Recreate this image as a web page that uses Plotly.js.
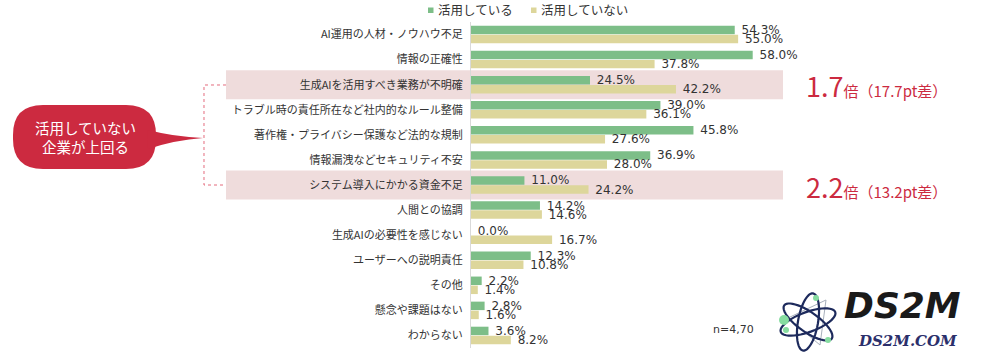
<!DOCTYPE html>
<html>
<head>
<meta charset="utf-8">
<script src="https://cdn.plot.ly/plotly-3.0.1.min.js"></script>
<style>html,body{margin:0;padding:0;background:#fff;}#chart{width:1000px;height:356px;}</style>
</head>
<body>
<div id="chart"></div>
<script>
const categories = [
  "AI運用の人材・ノウハウ不足",
  "情報の正確性",
  "生成AIを活用すべき業務が不明確",
  "トラブル時の責任所在など社内的なルール整備",
  "著作権・プライバシー保護など法的な規制",
  "情報漏洩などセキュリティ不安",
  "システム導入にかかる資金不足",
  "人間との協調",
  "生成AIの必要性を感じない",
  "ユーザーへの説明責任",
  "その他",
  "懸念や課題はない",
  "わからない"
];
const usingAI    = [54.3, 58.0, 24.5, 39.0, 45.8, 36.9, 11.0, 14.2, 0.0, 12.3, 2.2, 2.8, 3.6];
const notUsingAI = [55.0, 37.8, 42.2, 36.1, 27.6, 28.0, 24.2, 14.6, 16.7, 10.8, 1.4, 1.6, 8.2];
const seriesNames = ["活用している", "活用していない"];
const highlightRows = [2, 6];
const highlightTexts = ["1.7", "2.2"];
const highlightSubs = ["倍（17.7pt差）", "倍（13.2pt差）"];
const calloutText = "活用していない<br>企業が上回る";
const sampleNote = "n=4,70";

const GREEN = "#7dbe88", TAN = "#ddd69b", RED = "#cc2a40", BAND = "rgba(236,214,214,0.85)";
const L = 471, R = 783, T = 22, B = 348;
const px = x => (x - L) / (R - L);
const py = y => (B - y) / (B - T);
const P = (x, y) => px(x).toFixed(5) + "," + py(y).toFixed(5);

function ellipsePath(cx, cy, a, b, deg) {
  const th = deg * Math.PI / 180; let s = "";
  for (let k = 0; k <= 48; k++) {
    const t = k / 48 * 2 * Math.PI;
    const x = cx + a * Math.cos(t) * Math.cos(th) - b * Math.sin(t) * Math.sin(th);
    const y = cy + a * Math.cos(t) * Math.sin(th) + b * Math.sin(t) * Math.cos(th);
    s += (k === 0 ? "M" : "L") + P(x, y);
  }
  return s + "Z";
}
function circle(cx, cy, r, color) {
  return {type: "circle", xref: "paper", yref: "paper", x0: px(cx - r), x1: px(cx + r), y0: py(cy + r), y1: py(cy - r),
    fillcolor: color, line: {width: 0}};
}

const fontNum = {family: "DejaVu Sans, Noto Sans CJK JP", size: 12, color: "#333"};
const traces = [
  {type: "bar", orientation: "h", name: seriesNames[0], y: categories, x: usingAI,
   marker: {color: GREEN}, text: usingAI.map(v => "\u00a0" + v.toFixed(1) + "%"), textposition: "outside",
   textfont: fontNum, constraintext: "none", cliponaxis: false, hoverinfo: "skip"},
  {type: "bar", orientation: "h", name: seriesNames[1], y: categories, x: notUsingAI,
   marker: {color: TAN}, text: notUsingAI.map(v => "\u00a0" + v.toFixed(1) + "%"), textposition: "outside",
   textfont: fontNum, constraintext: "none", cliponaxis: false, hoverinfo: "skip"}
];

const shapes = [];
highlightRows.forEach(i => shapes.push({type: "rect", layer: "below", xref: "paper", yref: "y",
  x0: px(226), x1: 1, y0: i - 0.58, y1: i + 0.58, fillcolor: BAND, line: {width: 0}}));
shapes.push({type: "path", xref: "paper", yref: "paper",
  path: "M" + P(226, 85) + "L" + P(204, 85) + "L" + P(204, 185) + "L" + P(226, 185),
  line: {color: "#e46b7d", width: 1, dash: "dot"}});
const x0 = 13, x1 = 156, y0 = 105, y1 = 169, r = 30;
shapes.push({type: "path", xref: "paper", yref: "paper", fillcolor: RED, line: {width: 0},
  path: "M" + P(x0 + r, y0) + "L" + P(x1 - r, y0) + "Q" + P(x1, y0) + " " + P(x1, y0 + r) +
        "L" + P(x1, y1 - r) + "Q" + P(x1, y1) + " " + P(x1 - r, y1) + "L" + P(x0 + r, y1) +
        "Q" + P(x0, y1) + " " + P(x0, y1 - r) + "L" + P(x0, y0 + r) + "Q" + P(x0, y0) + " " + P(x0 + r, y0) + "Z"});
shapes.push({type: "path", xref: "paper", yref: "paper", fillcolor: RED, line: {width: 0},
  path: "M" + P(148, 130) + "Q" + P(175, 137) + " " + P(203, 138) + "Q" + P(175, 140) + " " + P(148, 149) + "Z"});
shapes.push({type: "rect", xref: "paper", yref: "paper", x0: px(428), x1: px(433.5), y0: py(13), y1: py(7.5), fillcolor: GREEN, line: {width: 0}});
shapes.push({type: "rect", xref: "paper", yref: "paper", x0: px(531), x1: px(536.5), y0: py(13), y1: py(7.5), fillcolor: TAN, line: {width: 0}});
shapes.push({type: "rect", xref: "paper", yref: "paper", x0: px(770), x1: px(1000), y0: py(356), y1: py(282), fillcolor: "#fff", line: {width: 0}});
shapes.push({type: "path", xref: "paper", yref: "paper", path: "M" + P(788, 318) + "L" + P(826, 300) + "L" + P(820, 345) + "Z",
  line: {color: "#a8b0bc", width: 1}});
[35, 100, 160].forEach(d => shapes.push({type: "path", xref: "paper", yref: "paper",
  path: ellipsePath(808, 322, 29, 10, d), line: {color: "#1d2a5c", width: 2.2}}));
shapes.push(circle(816, 298, 3, "#86dca0"));
shapes.push(circle(784, 320, 5, "#86dca0"));
shapes.push(circle(786, 330, 3, "#86dca0"));
shapes.push(circle(828, 340, 3, "#86dca0"));

const jp = "Noto Sans CJK JP";
const annotations = [
  {xref: "paper", yref: "paper", x: px(436), y: py(10), xanchor: "left", yanchor: "middle", showarrow: false,
   text: seriesNames[0], font: {family: jp, size: 12.5, color: "#333"}},
  {xref: "paper", yref: "paper", x: px(539), y: py(10), xanchor: "left", yanchor: "middle", showarrow: false,
   text: seriesNames[1], font: {family: jp, size: 12.5, color: "#333"}},
  {xref: "paper", yref: "paper", x: px(85), y: py(137), xanchor: "center", yanchor: "middle", showarrow: false,
   text: calloutText, font: {family: jp, size: 14.5, color: "#fff"}, align: "center"},
  {xref: "paper", yref: "paper", x: px(711), y: py(329), xanchor: "left", yanchor: "middle", showarrow: false,
   text: sampleNote, font: {family: "DejaVu Sans", size: 11, color: "#333"}},
  {xref: "paper", yref: "paper", x: px(842), y: py(305), xanchor: "left", yanchor: "middle", showarrow: false,
   text: "DS2M", font: {family: "DejaVu Sans", size: 36, color: "#1a1a1a", weight: 900, style: "italic"}},
  {xref: "paper", yref: "paper", x: px(856), y: py(341), xanchor: "left", yanchor: "middle", showarrow: false,
   text: "DS2M.COM", font: {family: "DejaVu Serif", size: 15, color: "#2b2f6b", weight: 700, style: "italic"}}
];
highlightRows.forEach((i, k) => annotations.push({xref: "paper", yref: "y", x: px(804), y: i, yshift: -1,
  xanchor: "left", yanchor: "middle", showarrow: false,
  text: highlightTexts[k] + "<span style='font-size:15px'>" + highlightSubs[k] + "</span>",
  font: {family: jp, size: 27, color: RED}}));

const layout = {
  width: 1000, height: 356,
  margin: {l: L, r: 1000 - R, t: T, b: 356 - B, pad: 0},
  paper_bgcolor: "#fff", plot_bgcolor: "rgba(0,0,0,0)",
  barmode: "group", bargap: 0.28, bargroupgap: 0.06,
  showlegend: false,
  xaxis: {range: [0, (R - L) / 4.857], showgrid: false, zeroline: false, showticklabels: false, showline: false, fixedrange: true},
  yaxis: {type: "category", autorange: "reversed", showgrid: false, zeroline: false, showline: true,
    linecolor: "#d9d9d9", linewidth: 1, ticks: "", ticklabelstandoff: 5, automargin: false,
    tickfont: {family: jp, size: 11, color: "#333"}, fixedrange: true},
  shapes: shapes, annotations: annotations,
  font: {family: jp}
};
Plotly.newPlot("chart", traces, layout, {displayModeBar: false, staticPlot: true});
</script>
</body>
</html>
